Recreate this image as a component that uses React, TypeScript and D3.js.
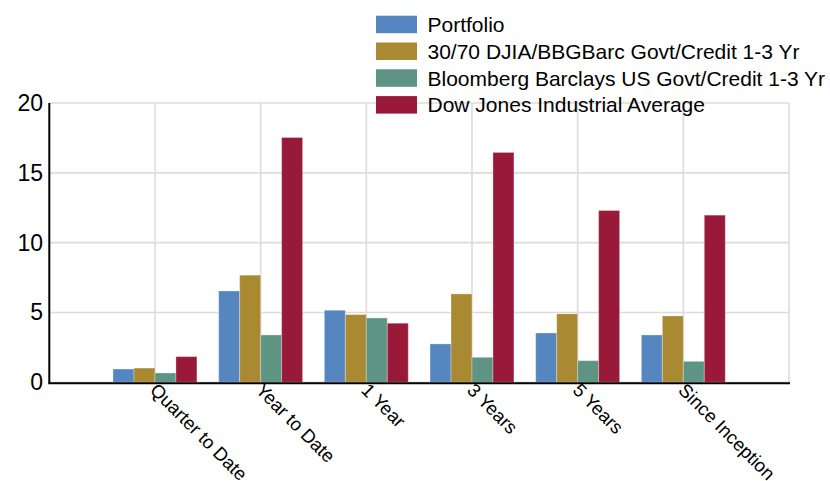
import React from "react";
import * as d3 from "d3";

const categories = ["Quarter to Date", "Year to Date", "1 Year", "3 Years", "5 Years", "Since Inception"];
const seriesNames = [
  "Portfolio",
  "30/70 DJIA/BBGBarc Govt/Credit 1-3 Yr",
  "Bloomberg Barclays US Govt/Credit 1-3 Yr",
  "Dow Jones Industrial Average",
];
const seriesColors = ["#5686BF", "#A98A32", "#5D9484", "#991A38"];
const portfolio = [0.95, 6.54, 5.16, 2.75, 3.53, 3.39];
const blend3070 = [1.02, 7.67, 4.85, 6.33, 4.9, 4.75];
const bbGovtCredit = [0.67, 3.39, 4.61, 1.79, 1.55, 1.5];
const djia = [1.84, 17.53, 4.23, 16.46, 12.3, 11.97];
const seriesValues = [portfolio, blend3070, bbGovtCredit, djia];
const yTicks = [0, 5, 10, 15, 20];

const W = 830;
const H = 481;
const left = 49.3;
const right = 789;
const top = 103;
const bottom = 382.3;
const FONT = "'Liberation Sans', Arial, sans-serif";

export default function App() {
  const x = d3
    .scalePoint<string>()
    .domain(["__start", ...categories, "__end"])
    .range([left, right]);
  const step = x.step();
  const inner = d3
    .scaleBand<string>()
    .domain(seriesNames)
    .range([-step * 0.397, step * 0.397])
    .padding(0);
  const y = d3.scaleLinear().domain([0, 20]).range([bottom, top]);
  const gridX = x.domain().slice(1);

  return (
    <svg
      width={W}
      height={H}
      style={{ position: "absolute", left: 0, top: 0, background: "#fff" }}
      fontFamily={FONT}
    >
      {yTicks.map((t) => (
        <line key={"h" + t} x1={left} x2={right} y1={y(t)} y2={y(t)} stroke="#dcdcdc" strokeWidth={1.6} />
      ))}
      {gridX.map((c) => (
        <line key={"v" + c} x1={x(c)!} x2={x(c)!} y1={top} y2={bottom} stroke="#dcdcdc" strokeWidth={1.6} />
      ))}
      {categories.map((c, ci) => (
        <g key={c} transform={`translate(${x(c)},0)`}>
          {seriesNames.map((s, si) => {
            const v = seriesValues[si][ci];
            return (
              <rect
                key={s}
                x={inner(s)!}
                y={y(v)}
                width={inner.bandwidth()}
                height={bottom - y(v)}
                fill={seriesColors[si]}
                stroke="#ffffff"
                strokeOpacity={0.3}
                strokeWidth={1}
              />
            );
          })}
        </g>
      ))}
      <line x1={left} x2={left} y1={top} y2={bottom + 1} stroke="#000" strokeWidth={2} />
      <line x1={left - 1} x2={right + 1} y1={bottom + 1} y2={bottom + 1} stroke="#000" strokeWidth={2} />
      {yTicks.map((t) => (
        <text key={"t" + t} x={43} y={y(t)} textAnchor="end" dominantBaseline="central" fontSize={23} fill="#000">
          {t}
        </text>
      ))}
      {categories.map((c) => (
        <text
          key={"l" + c}
          transform={`translate(${x(c)! - 6},${bottom + 9}) rotate(45)`}
          textAnchor="start"
          fontSize={18.6}
          fill="#000"
        >
          {c}
        </text>
      ))}
      {seriesNames.map((s, i) => (
        <g key={"lg" + s} transform={`translate(376,${15.7 + i * 26.8})`}>
          <rect width={41} height={17.5} fill={seriesColors[i]} />
          <text x={51.5} y={8.8} dominantBaseline="central" fontSize={21} fill="#000">
            {s}
          </text>
        </g>
      ))}
    </svg>
  );
}
